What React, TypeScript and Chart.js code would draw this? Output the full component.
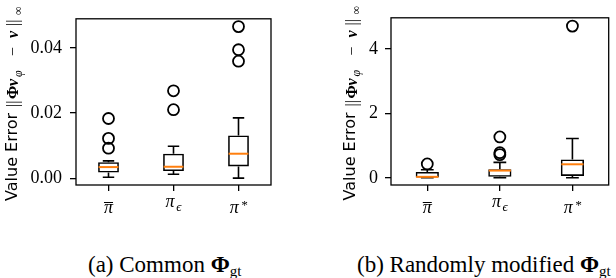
import React, { useEffect, useRef } from 'react';
import { Chart, registerables } from 'chart.js';

Chart.register(...registerables);

// ---------- data ----------
const categories = ['π̄', 'πϵ', 'π*'];
const tickBase = ['π', 'π', 'π'];
const tickSub = ['', 'ϵ', ''];
const tickSup = ['', '', '*'];
const tickBar = [true, false, false];

// (a) Common Φgt
const aWhiskerLow = [0.0003, 0.0012, 0.0];
const aQ1 = [0.0017, 0.0022, 0.0036];
const aMedian = [0.0034, 0.0035, 0.0075];
const aQ3 = [0.0049, 0.0075, 0.0131];
const aWhiskerHigh = [0.0053, 0.0098, 0.0185];
const aOutliers = [[0.0092, 0.0122, 0.0183], [0.021, 0.0268], [0.0359, 0.0394, 0.0465]];
const aYTicks = [0, 0.02, 0.04];
const aYMin = -0.0021;
const aYMax = 0.0489;

// (b) Randomly modified Φgt
const bWhiskerLow = [0.0, 0.0, 0.0];
const bQ1 = [0.01, 0.03, 0.06];
const bMedian = [0.03, 0.225, 0.42];
const bQ3 = [0.18, 0.265, 0.57];
const bWhiskerHigh = [0.25, 0.48, 1.22];
const bOutliers = [[0.43], [0.72, 0.78, 1.27], [4.71]];
const bYTicks = [0, 2, 4];
const bYMin = -0.223;
const bYMax = 4.968;

const yLabelParts = [
  { text: 'Value Error', font: '16px "DejaVu Sans"', d: 0, shift: 0 },
  { text: '||', font: '16px "Liberation Serif"', d: 94, shift: 1.5 },
  { text: 'Φ', font: 'bold 16px "Liberation Serif"', d: 102, shift: 1.5 },
  { text: 'v', font: 'italic bold 16px "Liberation Serif"', d: 115, shift: 1.5 },
  { text: 'φ', font: 'italic 12px "Liberation Serif"', d: 124, shift: 5 },
  { text: '−', font: '16px "Liberation Serif"', d: 145, shift: 1.5 },
  { text: 'v', font: 'italic bold 16px "Liberation Serif"', d: 163, shift: 1.5 },
  { text: '||', font: '16px "Liberation Serif"', d: 175, shift: 1.5 },
  { text: '∞', font: '12px "Liberation Serif"', d: 186, shift: 5 },
];

type BoxData = {
  lo: number[]; q1: number[]; med: number[]; q3: number[]; hi: number[]; out: number[][];
  yTicks: number[]; yMin: number; yMax: number; fmt: (v: number) => string;
};

function makeChart(canvas: HTMLCanvasElement, d: BoxData, layout: {
  axisWidth: number; padRight: number; labelX: number; tickPad: number;
}) {
  const outlierPoints: { x: string; y: number }[] = [];
  d.out.forEach((arr, i) => arr.forEach((v) => outlierPoints.push({ x: categories[i], y: v })));

  const boxParts = {
    id: 'boxParts',
    afterDatasetsDraw(chart: any) {
      const { ctx, scales } = chart;
      const x = scales.x;
      const y = scales.y;
      const meta = chart.getDatasetMeta(0);
      ctx.save();
      d.q1.forEach((_, i) => {
        const cx = x.getPixelForValue(i);
        const w = meta.data[i].width;
        const cw = w * 0.55;
        const yq1 = y.getPixelForValue(d.q1[i]);
        const yq3 = y.getPixelForValue(d.q3[i]);
        const ylo = y.getPixelForValue(d.lo[i]);
        const yhi = y.getPixelForValue(d.hi[i]);
        const ym = y.getPixelForValue(d.med[i]);
        ctx.strokeStyle = '#000';
        ctx.lineWidth = 1.6;
        ctx.beginPath();
        ctx.moveTo(cx, yq1); ctx.lineTo(cx, ylo);
        ctx.moveTo(cx - cw / 2, ylo); ctx.lineTo(cx + cw / 2, ylo);
        ctx.moveTo(cx, yq3); ctx.lineTo(cx, yhi);
        ctx.moveTo(cx - cw / 2, yhi); ctx.lineTo(cx + cw / 2, yhi);
        ctx.stroke();
        ctx.strokeStyle = '#ff7f0e';
        ctx.lineWidth = 2;
        ctx.beginPath();
        ctx.moveTo(cx - w / 2 + 0.5, ym); ctx.lineTo(cx + w / 2 - 0.5, ym);
        ctx.stroke();
      });
      ctx.restore();
    },
  };

  const decorations = {
    id: 'decorations',
    afterDraw(chart: any) {
      const { ctx, chartArea, scales } = chart;
      const x = scales.x;
      ctx.save();
      // frame
      ctx.strokeStyle = '#000';
      ctx.lineWidth = 1.3;
      ctx.strokeRect(chartArea.left, chartArea.top, chartArea.right - chartArea.left, chartArea.bottom - chartArea.top);
      // x tick labels
      ctx.fillStyle = '#000';
      ctx.textBaseline = 'alphabetic';
      ctx.textAlign = 'left';
      categories.forEach((_, i) => {
        const cx = x.getPixelForValue(i);
        const baseFont = 'italic 18px "Liberation Serif"';
        const smallFont = 'italic 13px "Liberation Serif"';
        ctx.font = baseFont;
        const bw = ctx.measureText(tickBase[i]).width;
        ctx.font = smallFont;
        const sw = tickSub[i] ? ctx.measureText(tickSub[i]).width + 1.5 : 0;
        const pw = tickSup[i] ? ctx.measureText(tickSup[i]).width + 2 : 0;
        const total = bw + sw + pw;
        const start = cx - total / 2;
        const base = chartArea.bottom + (tickSub[i] ? 22 : 28);
        ctx.font = baseFont;
        ctx.fillText(tickBase[i], start, base);
        if (tickBar[i]) {
          ctx.lineWidth = 1;
          ctx.beginPath();
          ctx.moveTo(start, base - 10.5);
          ctx.lineTo(start + bw, base - 10.5);
          ctx.stroke();
        }
        ctx.font = smallFont;
        if (tickSub[i]) ctx.fillText(tickSub[i], start + bw + 1.5, base + 4);
        if (tickSup[i]) ctx.fillText(tickSup[i], start + bw + 2, base - 4);
      });
      // y label
      const midY = (chartArea.top + chartArea.bottom) / 2;
      ctx.translate(layout.labelX, midY + 99);
      ctx.rotate(-Math.PI / 2);
      yLabelParts.forEach((p) => {
        ctx.font = p.font;
        ctx.fillText(p.text, p.d, p.shift);
      });
      ctx.restore();
    },
  };

  return new Chart(canvas, {
    type: 'bar',
    data: {
      labels: categories,
      datasets: [
        {
          type: 'bar',
          data: d.q1.map((v, i) => [v, d.q3[i]]) as any,
          backgroundColor: 'rgba(0,0,0,0)',
          borderColor: '#000',
          borderWidth: 1.6,
          borderSkipped: false,
          barPercentage: 0.32,
          categoryPercentage: 1,
        } as any,
        {
          type: 'line',
          data: outlierPoints as any,
          showLine: false,
          pointRadius: 5.5,
          pointBorderWidth: 1.8,
          pointBorderColor: '#000',
          pointBackgroundColor: 'rgba(0,0,0,0)',
        } as any,
      ],
    },
    options: {
      animation: false,
      responsive: false,
      devicePixelRatio: 1,
      events: [],
      layout: { padding: { top: 15, right: layout.padRight, left: 0, bottom: 0 } },
      plugins: { legend: { display: false }, tooltip: { enabled: false } },
      scales: {
        x: {
          type: 'category',
          offset: true,
          border: { display: false },
          grid: { drawOnChartArea: false, drawTicks: true, tickLength: 6, tickColor: '#000', lineWidth: 1.3, offset: false },
          ticks: { display: false },
          afterFit: (s: any) => { s.height = 45; },
        },
        y: {
          type: 'linear',
          min: d.yMin,
          max: d.yMax,
          border: { display: false },
          grid: { drawOnChartArea: false, drawTicks: true, tickLength: 6, tickColor: '#000', lineWidth: 1.3 },
          afterBuildTicks: (s: any) => { s.ticks = d.yTicks.map((v) => ({ value: v })); },
          ticks: {
            color: '#000',
            padding: layout.tickPad,
            font: { family: '"Liberation Serif"', size: 18 },
            callback: (v: any) => d.fmt(Number(v)),
          },
          afterFit: (s: any) => { s.width = layout.axisWidth; },
        },
      },
    },
    plugins: [boxParts, decorations],
  } as any);
}

export default function App() {
  const leftRef = useRef<HTMLCanvasElement>(null);
  const rightRef = useRef<HTMLCanvasElement>(null);

  useEffect(() => {
    const c1 = makeChart(leftRef.current!, {
      lo: aWhiskerLow, q1: aQ1, med: aMedian, q3: aQ3, hi: aWhiskerHigh, out: aOutliers,
      yTicks: aYTicks, yMin: aYMin, yMax: aYMax, fmt: (v) => v.toFixed(2),
    }, { axisWidth: 76, padRight: 34, labelX: 16.5, tickPad: 8 });
    const c2 = makeChart(rightRef.current!, {
      lo: bWhiskerLow, q1: bQ1, med: bMedian, q3: bQ3, hi: bWhiskerHigh, out: bOutliers,
      yTicks: bYTicks, yMin: bYMin, yMax: bYMax, fmt: (v) => v.toFixed(0),
    }, { axisWidth: 86, padRight: 4, labelX: 50, tickPad: 7 });
    return () => { c1.destroy(); c2.destroy(); };
  }, []);

  const capStyle: React.CSSProperties = {
    position: 'absolute', top: 253, fontFamily: '"Liberation Serif", serif', fontSize: 23,
    lineHeight: '23px', whiteSpace: 'nowrap', color: '#000',
  };
  const subStyle: React.CSSProperties = { fontSize: 15, position: 'relative', top: 4 };

  return (
    <div style={{ position: 'fixed', left: 0, top: 0, width: 616, height: 278, background: '#fff', overflow: 'hidden' }}>
      <canvas ref={leftRef} width={305} height={230} style={{ position: 'absolute', left: 0, top: 0, width: 305, height: 230 }} />
      <canvas ref={rightRef} width={311} height={230} style={{ position: 'absolute', left: 305, top: 0, width: 311, height: 230 }} />
      <div style={{ ...capStyle, left: 88 }}>
        (a) Common <b>Φ</b><span style={subStyle}>gt</span>
      </div>
      <div style={{ ...capStyle, left: 357 }}>
        (b) Randomly modified <b>Φ</b><span style={subStyle}>gt</span>
      </div>
    </div>
  );
}
